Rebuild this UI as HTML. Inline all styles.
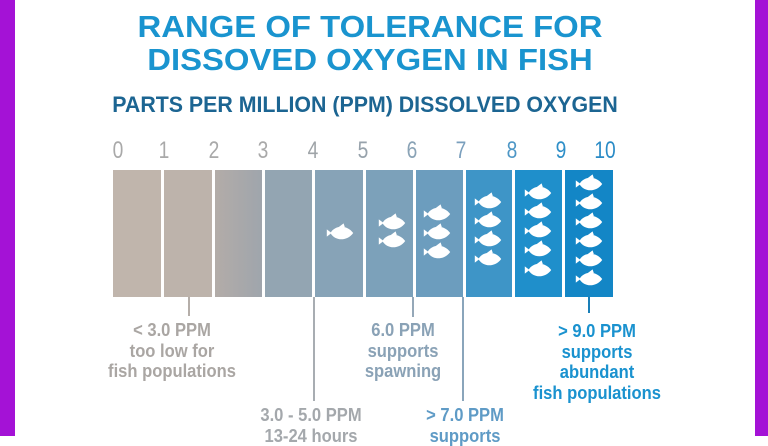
<!DOCTYPE html>
<html><head><style>
body{margin:0;width:768px;height:436px;overflow:hidden;background:#fff;position:relative;font-family:"Liberation Sans",sans-serif}
.bl{position:absolute;top:0;width:15px;height:436px;background:#a412d6}
.t{position:absolute;left:0;width:768px;text-align:center;font-weight:bold;white-space:nowrap}
.c{position:absolute;top:170px;height:127px}
.n{position:absolute;top:137px;font-size:24px;color:#a9a9a9;transform:translateX(-50%) scaleX(.8)}
.v{position:absolute;width:2px}
.lb{position:absolute;font-weight:bold;font-size:18px;line-height:20.5px;text-align:center;white-space:nowrap;transform:translateX(-50%) scaleX(.92)}
</style></head><body>
<div class="bl" style="left:0"></div><div class="bl" style="right:0;width:13px"></div>
<div class="t" style="top:10px;left:-14px;font-size:31px;line-height:33px;color:#1a94cf;transform:scaleX(1.06)">RANGE OF TOLERANCE FOR<br>DISSOVED OXYGEN IN FISH</div>
<div class="t" style="top:92px;font-size:22px;color:#1c6592;left:-19px;transform:scaleX(.97)">PARTS PER MILLION (PPM) DISSOLVED OXYGEN</div>
<div class="n" style="left:118px">0</div><div class="n" style="left:164px">1</div><div class="n" style="left:214px">2</div><div class="n" style="left:263px">3</div><div class="n" style="left:313px;color:#9fa4a8">4</div><div class="n" style="left:363px;color:#97a2ab">5</div><div class="n" style="left:412px;color:#8aa3b6">6</div><div class="n" style="left:461px;color:#7a9fbd">7</div><div class="n" style="left:512px;color:#4e97c6">8</div><div class="n" style="left:561px;color:#2e8fc8">9</div><div class="n" style="left:605px;color:#2a8bc6">10</div>
<div class="c" style="left:113px;width:48px;background:#c0b5ac"></div>
<div class="c" style="left:164px;width:48px;background:#bdb3ab"></div>
<div class="c" style="left:215px;width:47px;background:linear-gradient(90deg,#b3aca8,#9fa5ac)"></div>
<div class="c" style="left:265px;width:47px;background:#93a5b2"></div>
<div class="c" style="left:315px;width:48px;background:#87a3b7"></div>
<div class="c" style="left:366px;width:47px;background:#7ca1ba"></div>
<div class="c" style="left:416px;width:47px;background:#6c9dbe"></div>
<div class="c" style="left:466px;width:46px;background:#3e95c7"></div>
<div class="c" style="left:515px;width:47px;background:#1f8fcb"></div>
<div class="c" style="left:565px;width:48px;background:#1386c6"></div>
<svg width="768" height="436" style="position:absolute;left:0;top:0">
<defs><g id="f"><path transform="scale(1.2)" d="M-11,-3 L-7,0 L-11,3 Z M-8,0 C-4,-7 6,-7 11,0 C6,7 -4,7 -8,0 Z M-1,-5 L3,-8 L4,-5 Z" fill="#fff"/></g></defs>
<use href="#f" x="340" y="233"/>
<use href="#f" x="392" y="223"/><use href="#f" x="392" y="241"/>
<use href="#f" x="437" y="214"/><use href="#f" x="437" y="233"/><use href="#f" x="437" y="252"/>
<use href="#f" x="488" y="202"/><use href="#f" x="488" y="221"/><use href="#f" x="488" y="240"/><use href="#f" x="488" y="259"/>
<use href="#f" x="538" y="193"/><use href="#f" x="538" y="212"/><use href="#f" x="538" y="231"/><use href="#f" x="538" y="250"/><use href="#f" x="538" y="270"/>
<use href="#f" x="589" y="184"/><use href="#f" x="589" y="203"/><use href="#f" x="589" y="222"/><use href="#f" x="589" y="241"/><use href="#f" x="589" y="260"/><use href="#f" x="589" y="279"/>
</svg>
<div class="v" style="left:188px;top:297px;height:19px;background:#b5aea9"></div>
<div class="v" style="left:313px;top:297px;height:104px;background:#a8adb2"></div>
<div class="v" style="left:412px;top:297px;height:20px;background:#95a8b8"></div>
<div class="v" style="left:462px;top:297px;height:104px;background:#8aa5bb"></div>
<div class="v" style="left:588px;top:297px;height:16px;background:#1a7fb8"></div>
<div class="lb" style="left:172px;top:320px;color:#aaa6a3">&lt; 3.0 PPM<br>too low for<br>fish populations</div>
<div class="lb" style="left:311px;top:405px;color:#a4a8ac">3.0 - 5.0 PPM<br>13-24 hours</div>
<div class="lb" style="left:403px;top:320px;color:#8aa2b6">6.0 PPM<br>supports<br>spawning</div>
<div class="lb" style="left:465px;top:405px;color:#5f9bc6">&gt; 7.0 PPM<br>supports</div>
<div class="lb" style="left:597px;top:321px;color:#1a92cf">&gt; 9.0 PPM<br>supports<br>abundant<br>fish populations</div>
</body></html>
